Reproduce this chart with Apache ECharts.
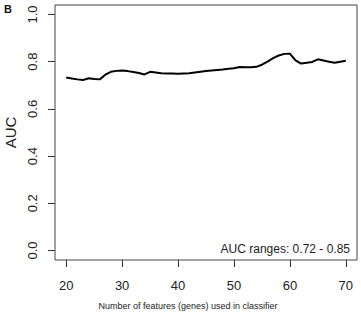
<!DOCTYPE html>
<html>
<head>
<meta charset="utf-8">
<script src="https://cdn.jsdelivr.net/npm/echarts@6/dist/echarts.min.js"></script>
<style>
  html, body { margin: 0; padding: 0; background: #fff; }
  #main { width: 361px; height: 314px; }
</style>
</head>
<body>
<div id="main"></div>
<script>
// number of features used in the classifier
const features = [];
for (let n = 20; n <= 70; n++) features.push(n);

// AUC for each feature count
const auc = [
  0.733, 0.729, 0.725, 0.722, 0.730, 0.727, 0.725, 0.745, 0.757, 0.761,
  0.763, 0.760, 0.756, 0.752, 0.746, 0.757, 0.754, 0.751, 0.750, 0.750,
  0.749, 0.750, 0.751, 0.754, 0.757, 0.760, 0.763, 0.765, 0.767, 0.770,
  0.772, 0.777, 0.776, 0.776, 0.778, 0.787, 0.800, 0.815, 0.826, 0.833,
  0.834, 0.805, 0.792, 0.795, 0.799, 0.810, 0.805, 0.800, 0.795, 0.800,
  0.804
];

const xTicks = [20, 30, 40, 50, 60, 70];
const yTicks = [0, 0.2, 0.4, 0.6, 0.8, 1.0];

const font = 'Liberation Sans, Arial, sans-serif';
const textColor = '#222';

const chart = echarts.init(document.getElementById('main'), null, { renderer: 'svg' });

chart.setOption({
  animation: false,
  textStyle: { fontFamily: font },
  grid: {
    left: 55, right: 4, top: 5, bottom: 54,
    outerBoundsMode: 'none', containLabel: false,
    show: true, borderColor: '#444', borderWidth: 1, backgroundColor: '#fff'
  },
  xAxis: {
    type: 'value',
    min: 18, max: 72,
    axisLine: { show: false, onZero: false },
    splitLine: { show: false },
    axisTick: { show: true, inside: false, length: 7, customValues: xTicks, lineStyle: { color: '#333' } },
    axisLabel: {
      customValues: xTicks, margin: 19, fontSize: 13, color: textColor, fontFamily: font
    }
  },
  yAxis: {
    type: 'value',
    min: -0.04, max: 1.04,
    name: 'AUC',
    nameLocation: 'middle',
    nameGap: 37,
    nameRotate: 90,
    nameTextStyle: { fontSize: 15, color: textColor, fontFamily: font },
    axisLine: { show: false, onZero: false },
    splitLine: { show: false },
    axisTick: { show: true, inside: false, length: 7, customValues: yTicks, lineStyle: { color: '#333' } },
    axisLabel: {
      customValues: yTicks, rotate: 90, margin: 16, fontSize: 13, color: textColor, fontFamily: font,
      formatter: v => v.toFixed(1)
    }
  },
  series: [{
    type: 'line',
    data: features.map((f, i) => [f, auc[i]]),
    showSymbol: false,
    lineStyle: { color: '#000', width: 2 }
  }],
  graphic: [
    { type: 'text', left: 4, top: 3,
      style: { text: 'B', font: 'bold 11px ' + font, fill: '#111' } },
    { type: 'text', x: 350, y: 249,
      style: { text: 'AUC ranges: 0.72 - 0.85', font: '12px ' + font, fill: textColor,
               align: 'right', verticalAlign: 'middle' } },
    { type: 'text', x: 188, y: 306,
      style: { text: 'Number of features (genes) used in classifier', font: '9px ' + font,
               fill: textColor, align: 'center', verticalAlign: 'middle' } }
  ]
});
</script>
</body>
</html>
